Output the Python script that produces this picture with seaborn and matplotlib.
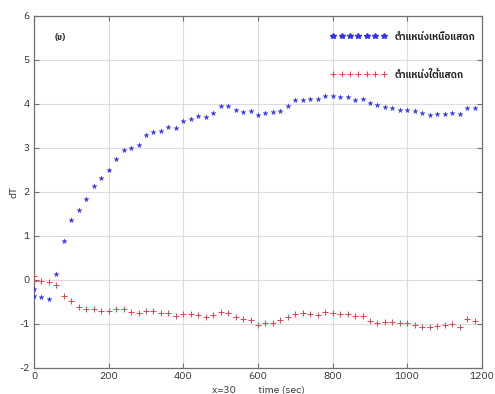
import numpy as np
import pandas as pd
import matplotlib
matplotlib.use("Agg")
import matplotlib.pyplot as plt
import seaborn as sns
from matplotlib import font_manager as fm
from matplotlib.ft2font import FT2Font
from matplotlib.lines import Line2D

# ---------------- data ----------------
time_s = [0, 0] + list(range(20, 1200, 20))
north_dT = [-0.20, -0.36, -0.39, -0.43, 0.14, 0.89, 1.36, 1.58, 1.83, 2.14, 2.32,
            2.51, 2.75, 2.95, 2.99, 3.06, 3.29, 3.36, 3.39, 3.48, 3.46,
            3.62, 3.66, 3.73, 3.70, 3.79, 3.96, 3.95, 3.86, 3.81, 3.84,
            3.76, 3.79, 3.82, 3.85, 3.96, 4.09, 4.09, 4.11, 4.11, 4.19,
            4.19, 4.15, 4.17, 4.10, 4.11, 4.02, 3.98, 3.94, 3.91, 3.87,
            3.86, 3.84, 3.80, 3.76, 3.77, 3.77, 3.80, 3.77, 3.91, 3.92]
south_dT = [0.10, -0.02, -0.03, -0.05, -0.11, -0.37, -0.47, -0.62, -0.66, -0.66, -0.70,
            -0.70, -0.66, -0.66, -0.73, -0.74, -0.70, -0.70, -0.74, -0.74, -0.81,
            -0.77, -0.77, -0.80, -0.85, -0.80, -0.72, -0.76, -0.85, -0.88, -0.90,
            -1.03, -0.98, -0.98, -0.90, -0.85, -0.77, -0.74, -0.77, -0.80, -0.72,
            -0.76, -0.77, -0.77, -0.81, -0.82, -0.93, -0.97, -0.95, -0.95, -0.98,
            -0.98, -1.02, -1.07, -1.07, -1.05, -1.02, -1.00, -1.06, -0.89, -0.94]
labels = ["ตำแหน่งเหนือแสดก", "ตำแหน่งใต้แสดก"]
panel_label = "(ข)"
x_label = "x=30         time (sec)"
y_label = "dT"
x_ticks = [0, 200, 400, 600, 800, 1000, 1200]
y_ticks = [-2, -1, 0, 1, 2, 3, 4, 5, 6]

df = pd.DataFrame({"time": time_s, "north": north_dT, "south": south_dT})

# ---------------- fonts ----------------
def find_thai_font():
    best = None
    for f in fm.fontManager.ttflist:
        try:
            cm = FT2Font(f.fname).get_charmap()
        except Exception:
            continue
        if 0x0E15 in cm and 0x0E02 in cm and 0x0E41 in cm:
            if best is None:
                best = f.name
            if "Thai" in f.name:
                return f.name
    return best

thai = find_thai_font()

sns.set_theme(style="white")
fams = ([thai] if thai else []) + ["DejaVu Sans"]
plt.rcParams["font.family"] = fams

blue = "#3030f0"
red = "#e8404e"
txt = "#303030"

fig = plt.figure(figsize=(4.95, 3.94), dpi=100)
ax = fig.add_axes([0.0687, 0.066, 0.905, 0.8934])

sns.scatterplot(data=df, x="time", y="north", marker="*", s=15, color=blue,
                edgecolor=blue, linewidth=0.2, ax=ax, zorder=3)
sns.scatterplot(data=df, x="time", y="south", marker="+", s=20, color=red,
                linewidth=0.7, ax=ax, zorder=3)

ax.set_xlim(0, 1200)
ax.set_ylim(-2, 6)
ax.set_xticks(x_ticks)
ax.set_yticks(y_ticks)
ax.set_xticklabels([str(v) for v in x_ticks])
ax.set_yticklabels([str(v) for v in y_ticks])
ax.grid(True, color="#dcdcdc", linewidth=0.8, linestyle="-")
ax.set_axisbelow(True)
for s in ax.spines.values():
    s.set_color("#707070")
    s.set_linewidth(0.9)
    s.set_visible(True)
ax.tick_params(direction="in", length=3.5, width=0.8, colors="#707070",
               labelcolor=txt, labelsize=7.5, top=True, right=True,
               bottom=True, left=True, pad=3)

ax.set_xlabel(x_label, fontsize=7.5, color=txt, labelpad=3)
ax.set_ylabel(y_label, fontsize=7.5, color=txt, labelpad=1)

ax.text(56, 5.52, panel_label, fontsize=6.5, fontweight="bold", color="#202020",
        va="center", ha="left")

handles = [Line2D([], [], ls="", marker="*", color=blue, markersize=3.8),
           Line2D([], [], ls="", marker="+", color=red, markersize=4.2, markeredgewidth=0.7)]
leg = ax.legend(handles, labels, loc="upper right", frameon=False, numpoints=7,
                handlelength=5.8, handletextpad=0.8, labelspacing=2.9,
                prop={"size": 7, "weight": "bold"}, bbox_to_anchor=(1.0, 0.975),
                borderaxespad=0.3)

fig.savefig("out.png", dpi=100)
